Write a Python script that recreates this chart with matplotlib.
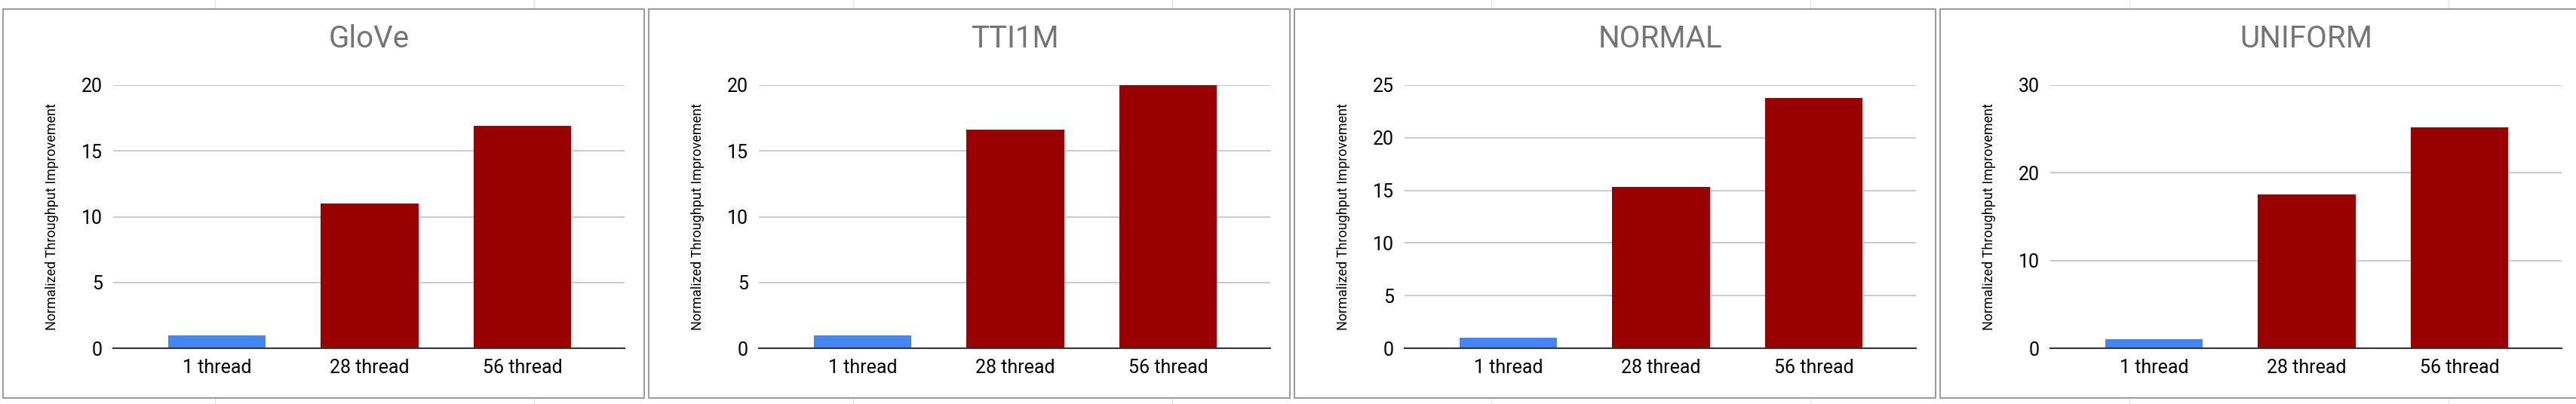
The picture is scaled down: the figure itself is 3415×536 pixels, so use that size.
import numpy as np
import matplotlib.pyplot as plt
from matplotlib.patches import Rectangle

plt.rcParams["font.family"] = ["Roboto", "DejaVu Sans"]

titles = ["GloVe", "TTI1M", "NORMAL", "UNIFORM"]
categories = ["1 thread", "28 thread", "56 thread"]
glove = [1.0, 11.0, 16.9]
tti1m = [1.0, 16.6, 20.0]
normal = [1.0, 15.3, 23.8]
uniform = [1.0, 17.5, 25.2]
series = [glove, tti1m, normal, uniform]
ylims = [20, 20, 25, 30]
ysteps = [5, 5, 5, 10]

W, H = 3416, 536
fig = plt.figure(figsize=(W / 100, H / 100), dpi=100)
fig.patch.set_facecolor("white")

# faint spreadsheet cell lines behind the charts
for x in [285, 708, 1131, 1554, 1977, 2400, 2823, 3246]:
    fig.add_artist(plt.Line2D([x / W] * 2, [0, 1], color="#e6e6e6", lw=1, zorder=0))

colors = ["#4285f4", "#990000", "#990000"]
x = np.arange(len(categories))
panel_w = 856

for i, (title, vals) in enumerate(zip(titles, series)):
    x0 = 4 + i * panel_w
    fig.add_artist(Rectangle((x0 / W, 8 / H), (panel_w - 6) / W, (H - 20) / H,
                             facecolor="white", edgecolor="#9e9e9e", lw=1.5,
                             transform=fig.transFigure, zorder=1))
    ax = fig.add_axes([(x0 + 146) / W, 74 / H, 678 / W, 349 / H])
    ax.set_zorder(2)
    ax.patch.set_alpha(0)
    ax.bar(x, vals, width=0.64, color=colors, zorder=3)
    ax.set_xlim(-0.68, 2.67)
    ax.set_ylim(0, ylims[i])
    ax.set_yticks(np.arange(0, ylims[i] + 1, ysteps[i]))
    ax.set_xticks(x)
    ax.set_xticklabels(categories)
    ax.tick_params(length=0, labelsize=18, pad=10)
    ax.grid(axis="y", color="#cccccc", lw=1.5, zorder=0)
    for s in ["top", "right", "left"]:
        ax.spines[s].set_visible(False)
    ax.spines["bottom"].set_color("#333333")
    ax.spines["bottom"].set_linewidth(1.5)
    ax.spines["bottom"].set_zorder(4)
    ax.set_ylabel("Normalized Throughput Improvement", fontsize=13, labelpad=22)
    ax.set_title(title, fontsize=29, color="#757575", pad=36)

fig.savefig("out.png", dpi=100)
